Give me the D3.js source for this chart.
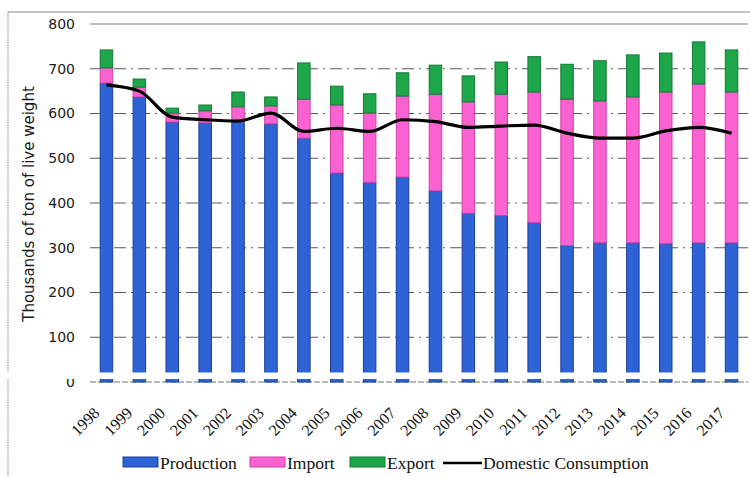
<!DOCTYPE html>
<html><head><meta charset="utf-8">
<script src="https://cdn.jsdelivr.net/npm/d3@7/dist/d3.min.js"></script>
<style>body{margin:0;background:#fff}svg{display:block}</style>
</head><body>
<svg id="c" width="750" height="477"></svg>
<script>
const years = ["1998","1999","2000","2001","2002","2003","2004","2005","2006","2007","2008","2009","2010","2011","2012","2013","2014","2015","2016","2017"];
const production = [668,637,581,579,581,577,545,467,446,458,427,377,372,356,305,311,311,309,311,311];
const imports    = [34,22,20,27,34,40,87,152,155,181,216,249,271,292,327,317,326,339,355,337];
const exportsV   = [40,18,11,13,33,20,81,42,43,52,65,58,72,79,78,90,94,87,94,94];
const consumption= [664,650,592,586,583,601,560,567,560,586,582,569,572,574,556,545,545,561,569,556];
const yTicks = [0,100,200,300,400,500,600,700,800];
const seriesNames = ["Production","Import","Export"];
const lineName = "Domestic Consumption";
const yTitle = "Thousands of ton of live weight";

const fills = {Production:"#2E63D6", Import:"#FA62D2", Export:"#1EA64A"};
const strokes = {Production:"#1B3E98", Import:"#D040A8", Export:"#137A33"};

const svg = d3.select("#c");
const x = d3.scaleBand().domain(years).range([90,748]).paddingInner(0.62).paddingOuter(0.31);
const y = d3.scaleLinear().domain([0,800]).range([382,24]);

// outer frame
svg.append("line").attr("x1",8).attr("x2",750).attr("y1",12).attr("y2",12).attr("stroke","#b0b0b0").attr("stroke-width",1.5);
svg.append("line").attr("x1",8).attr("x2",8).attr("y1",12).attr("y2",477).attr("stroke","#9a9a9a").attr("stroke-width",1.2).attr("stroke-dasharray","1.5,1");

// gridlines
const grid = svg.append("g");
yTicks.forEach(t=>{
  const l = grid.append("line").attr("x1",90).attr("x2",748).attr("y1",y(t)).attr("y2",y(t));
  if(t===800) l.attr("stroke","#bdbdbd").attr("stroke-width",2);
  else if(t===0) l.attr("stroke","#a0a0a0").attr("stroke-width",1.3).attr("stroke-dasharray","6,2");
  else l.attr("stroke","#5a5a5a").attr("stroke-width",1.1).attr("stroke-dasharray","12,5,2,5");
});

// y axis labels
const yAx = svg.append("g").attr("transform","translate(90,0)")
  .call(d3.axisLeft(y).tickValues(yTicks).tickSize(0).tickPadding(15).tickFormat(d3.format("d")));
yAx.select(".domain").remove();
yAx.selectAll("text").attr("font-family","DejaVu Sans, Verdana, sans-serif").attr("font-size",14).attr("fill","#1a1a1a");

svg.append("text").attr("transform","translate(34,204) rotate(-90)").attr("text-anchor","middle")
  .attr("font-family","DejaVu Sans, Verdana, sans-serif").attr("font-size",15).attr("fill","#1a1a1a").text(yTitle);

// stacked bars
const table = years.map((yr,i)=>({year:yr, Production:production[i], Import:imports[i], Export:exportsV[i]}));
const stack = d3.stack().keys(seriesNames)(table);
svg.append("g").selectAll("g").data(stack).join("g")
  .attr("fill",d=>fills[d.key]).attr("stroke",d=>strokes[d.key]).attr("stroke-width",1)
  .selectAll("rect").data(d=>d).join("rect")
  .attr("x",d=>x(d.data.year)).attr("width",x.bandwidth())
  .attr("y",d=>y(d[1])).attr("height",d=>y(d[0])-y(d[1]));

// consumption line
const line = d3.line().x((d,i)=>x(years[i])+x.bandwidth()/2).y(d=>y(d)).curve(d3.curveMonotoneX);
svg.append("path").datum(consumption).attr("d",line).attr("fill","none").attr("stroke","#000").attr("stroke-width",3.2);

// white cut strip near base
svg.append("rect").attr("x",0).attr("y",372.5).attr("width",750).attr("height",6.5).attr("fill","#fff");

// x labels
svg.append("g").selectAll("text").data(years).join("text")
  .attr("transform",d=>`translate(${x(d)+x.bandwidth()/2-6},414) rotate(-45)`)
  .attr("text-anchor","end").attr("font-family","Liberation Serif, Times New Roman, serif")
  .attr("font-size",16).attr("fill","#111").text(d=>d);

// legend
const lg = svg.append("g");
const sw = [{n:"Production",x:123},{n:"Import",x:250},{n:"Export",x:350}];
sw.forEach(s=>{
  lg.append("rect").attr("x",s.x).attr("y",457).attr("width",35).attr("height",10)
    .attr("fill",fills[s.n]).attr("stroke",strokes[s.n]).attr("stroke-width",1);
  lg.append("text").attr("x",s.x+37).attr("y",469).attr("font-family","Liberation Serif, Times New Roman, serif")
    .attr("font-size",17.5).attr("fill","#111").text(s.n);
});
lg.append("line").attr("x1",443).attr("x2",482).attr("y1",463).attr("y2",463).attr("stroke","#000").attr("stroke-width",2.5);
lg.append("text").attr("x",483).attr("y",469).attr("font-family","Liberation Serif, Times New Roman, serif")
  .attr("font-size",17.5).attr("fill","#111").text(lineName);
</script>
</body></html>
